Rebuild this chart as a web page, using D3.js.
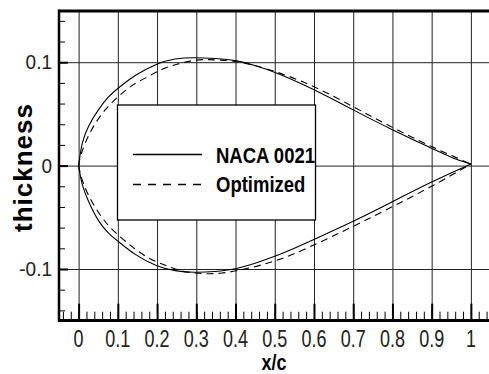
<!DOCTYPE html>
<html>
<head>
<meta charset="utf-8">
<script src="https://cdn.jsdelivr.net/npm/d3@7"></script>
<style>
  body { margin: 0; background: #fff; }
  svg { display: block; }
</style>
</head>
<body>
<div id="chart"></div>
<script>
// data
const nacaUpperX = [0, 0.008, 0.025, 0.05, 0.075, 0.1, 0.143, 0.2, 0.245, 0.296, 0.35, 0.4, 0.445, 0.5, 0.6, 0.7, 0.8, 0.9, 0.954, 1.0];
const nacaUpperY = [0, 0.023, 0.039, 0.054, 0.0666, 0.0748, 0.0876, 0.099, 0.1037, 0.1047, 0.1036, 0.102, 0.0973, 0.0908, 0.0738, 0.0538, 0.0344, 0.0167, 0.007, 0.0015];
const nacaLowerX = [0, 0.008, 0.025, 0.05, 0.075, 0.1, 0.143, 0.2, 0.245, 0.296, 0.347, 0.4, 0.45, 0.5, 0.55, 0.6, 0.7, 0.8, 0.9, 1.0];
const nacaLowerY = [0, -0.0188, -0.035, -0.054, -0.0655, -0.0729, -0.0865, -0.0977, -0.102, -0.1036, -0.1026, -0.1003, -0.0945, -0.088, -0.080, -0.0713, -0.0542, -0.035, -0.0155, 0.0015];
const optUpperX = [0, 0.004, 0.03, 0.067, 0.105, 0.139, 0.177, 0.215, 0.25, 0.288, 0.322, 0.36, 0.4, 0.5, 0.6, 0.7, 0.8, 0.9, 1.0];
const optUpperY = [0, 0.010, 0.0344, 0.0547, 0.0683, 0.0789, 0.086, 0.094, 0.098, 0.1018, 0.1028, 0.102, 0.1015, 0.092, 0.077, 0.057, 0.0367, 0.018, 0.0015];
const optLowerX = [0, 0.004, 0.02, 0.065, 0.107, 0.143, 0.182, 0.2155, 0.254, 0.292, 0.33, 0.364, 0.4025, 0.44, 0.475, 0.508, 0.5425, 0.6, 0.7, 0.8, 0.9, 1.0];
const optLowerY = [0, -0.008, -0.0268, -0.0549, -0.0694, -0.0807, -0.0907, -0.0955, -0.1016, -0.1039, -0.1048, -0.1042, -0.1019, -0.0987, -0.0952, -0.0913, -0.0865, -0.0768, -0.059, -0.0397, -0.0204, 0.0015];

// axis ticks
const xTicks = [0, 0.1, 0.2, 0.3, 0.4, 0.5, 0.6, 0.7, 0.8, 0.9, 1];
const xTickLabels = ["0", "0.1", "0.2", "0.3", "0.4", "0.5", "0.6", "0.7", "0.8", "0.9", "1"];
const yTicks = [-0.1, 0, 0.1];
const yTickLabels = ["-0.1", "0", "0.1"];
const seriesNames = ["NACA 0021", "Optimized"];

const W = 489, H = 374;
const plotL = 59, plotR = 490.5, plotT = 10.5, plotB = 320.7;

const svg = d3.select("#chart")
  .append("svg")
    .attr("width", W)
    .attr("height", H);

const x = d3.scaleLinear().domain([-0.05, 1.05]).range([plotL, plotR]);
const y = d3.scaleLinear().domain([-0.15, 0.15]).range([plotB, plotT]);

const narrow = "'Liberation Sans Narrow', 'Arial Narrow', 'Liberation Sans', sans-serif";

// grid lines
svg.append("g")
    .attr("transform", `translate(0,${plotB})`)
    .call(d3.axisBottom(x).tickValues(xTicks).tickSize(-(plotB - plotT)).tickFormat(""))
    .call(g => g.select(".domain").remove())
    .selectAll("line").attr("stroke", "#222").attr("stroke-width", 1);

svg.append("g")
    .attr("transform", `translate(${plotL},0)`)
    .call(d3.axisLeft(y).tickValues(yTicks).tickSize(-(plotR - plotL)).tickFormat(""))
    .call(g => g.select(".domain").remove())
    .selectAll("line").attr("stroke", "#222").attr("stroke-width", 1);

// minor and major ticks
const minorX = d3.range(-0.04, 1.05, 0.02);
svg.append("g")
    .attr("transform", `translate(0,${plotB})`)
    .call(d3.axisBottom(x).tickValues(minorX).tickSize(-9).tickFormat(""))
    .call(g => g.select(".domain").remove())
    .selectAll("line").attr("stroke", "#000").attr("stroke-width", 1);
svg.append("g")
    .attr("transform", `translate(0,${plotB})`)
    .call(d3.axisBottom(x).tickValues(xTicks).tickSize(-17).tickFormat(""))
    .call(g => g.select(".domain").remove())
    .selectAll("line").attr("stroke", "#000").attr("stroke-width", 2);

const minorY = d3.range(-0.14, 0.15, 0.02);
svg.append("g")
    .attr("transform", `translate(${plotL},0)`)
    .call(d3.axisLeft(y).tickValues(minorY).tickSize(-6).tickFormat(""))
    .call(g => g.select(".domain").remove())
    .selectAll("line").attr("stroke", "#000").attr("stroke-width", 1);
svg.append("g")
    .attr("transform", `translate(${plotL},0)`)
    .call(d3.axisLeft(y).tickValues(yTicks).tickSize(-9).tickFormat(""))
    .call(g => g.select(".domain").remove())
    .selectAll("line").attr("stroke", "#000").attr("stroke-width", 2);

// curves
const line = d3.line()
  .x(d => x(d[0]))
  .y(d => y(d[1]))
  .curve(d3.curveBasis);

const curves = [
  { xs: nacaUpperX, ys: nacaUpperY, dash: null },
  { xs: nacaLowerX, ys: nacaLowerY, dash: null },
  { xs: optUpperX, ys: optUpperY, dash: "7,5" },
  { xs: optLowerX, ys: optLowerY, dash: "7,5" }
];

svg.selectAll(".curve")
  .data(curves)
  .enter()
  .append("path")
    .attr("class", "curve")
    .attr("d", c => line(c.xs.map((v, i) => [v, c.ys[i]])))
    .attr("fill", "none")
    .attr("stroke", "#000")
    .attr("stroke-width", 1.1)
    .attr("stroke-dasharray", c => c.dash);

// legend
const lg = svg.append("g");
lg.append("rect")
    .attr("x", 117.5).attr("y", 105)
    .attr("width", 198).attr("height", 115)
    .attr("fill", "#fff")
    .attr("stroke", "#000")
    .attr("stroke-width", 1.3);

lg.selectAll("line.leg")
  .data(seriesNames)
  .enter()
  .append("line")
    .attr("class", "leg")
    .attr("x1", 133).attr("x2", 202)
    .attr("y1", (d, i) => 154.5 + i * 30)
    .attr("y2", (d, i) => 154.5 + i * 30)
    .attr("stroke", "#000")
    .attr("stroke-width", 1.3)
    .attr("stroke-dasharray", (d, i) => i ? "8,7" : null);

lg.selectAll("text.leg")
  .data(seriesNames)
  .enter()
  .append("text")
    .attr("class", "leg")
    .attr("transform", (d, i) => `translate(216,${163 + i * 29}) scale(1,1.18)`)
    .attr("font-family", narrow)
    .attr("font-weight", "bold")
    .attr("font-size", "18.5px")
    .attr("fill", "#000")
    .text(d => d);

// frame
svg.append("line").attr("x1", plotL).attr("x2", W).attr("y1", 11).attr("y2", 11)
  .attr("stroke", "#000").attr("stroke-width", 3);
svg.append("line").attr("x1", plotL).attr("x2", W).attr("y1", 320.5).attr("y2", 320.5)
  .attr("stroke", "#000").attr("stroke-width", 3);
svg.append("line").attr("x1", plotL).attr("x2", plotL).attr("y1", 9.5).attr("y2", 322)
  .attr("stroke", "#000").attr("stroke-width", 2.5);

// tick labels
svg.selectAll("text.xt")
  .data(xTicks)
  .enter()
  .append("text")
    .attr("class", "xt")
    .attr("transform", d => `translate(${x(d)},346.5) scale(1,1.3)`)
    .attr("text-anchor", "middle")
    .attr("font-family", narrow)
    .attr("font-size", "18px")
    .attr("fill", "#222")
    .text((d, i) => xTickLabels[i]);

svg.selectAll("text.yt")
  .data(yTicks)
  .enter()
  .append("text")
    .attr("class", "yt")
    .attr("transform", d => `translate(52,${y(d) + 7}) scale(1,1.05)`)
    .attr("text-anchor", "end")
    .attr("font-family", narrow)
    .attr("font-size", "19px")
    .attr("fill", "#222")
    .text((d, i) => yTickLabels[i]);

// axis titles
svg.append("text")
    .attr("transform", "translate(32,167.5) rotate(-90)")
    .attr("text-anchor", "middle")
    .attr("font-family", "'Liberation Sans', Arial, sans-serif")
    .attr("font-weight", "bold")
    .attr("font-size", "26px")
    .attr("letter-spacing", "1px")
    .text("thickness");

svg.append("text")
    .attr("transform", "translate(274,370) scale(1,1.2)")
    .attr("text-anchor", "middle")
    .attr("font-family", "'Liberation Sans', Arial, sans-serif")
    .attr("font-weight", "bold")
    .attr("font-size", "18px")
    .text("x/c");
</script>
</body>
</html>
